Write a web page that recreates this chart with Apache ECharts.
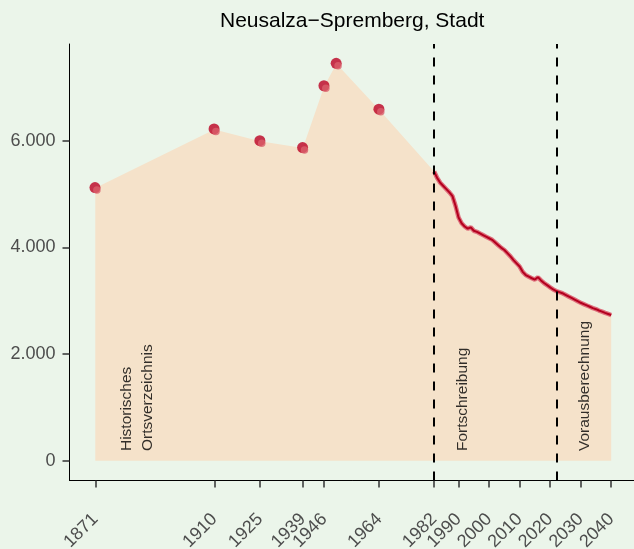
<!DOCTYPE html>
<html><head><meta charset="utf-8">
<script src="https://cdn.jsdelivr.net/npm/echarts@6/dist/echarts.min.js"></script>
<style>html,body{margin:0;padding:0;background:#EBF5EA;} #c{width:634px;height:549px;}</style>
</head><body><div id="c"></div>
<script>
const chartTitle = 'Neusalza\u2212Spremberg, Stadt';
const histYears = [1871, 1910, 1925, 1939, 1946, 1950, 1964];
const histValues = [5110, 6210, 5990, 5860, 7020, 7440, 6580];
const lineYears = [1982,1983,1984,1985,1986,1987,1988,1989,1990,1991,1992,1993,1994,1995,1996,1997,1998,1999,
  2000,2001,2002,2003,2004,2005,2006,2007,2008,2009,2010,2011,2012,2013,2014,2015,2016,2017,2018,2019,
  2020,2021,2022,2023,2024,2025,2026,2027,2028,2029,2030,2031,2032,2033,2034,2035,2036,2037,2038,2039,2040];
const lineValues = [5420,5300,5210,5150,5090,5030,4960,4780,4560,4450,4390,4350,4375,4310,4290,4260,4230,4200,
  4170,4140,4090,4040,3990,3950,3890,3830,3760,3700,3640,3540,3480,3450,3420,3395,3440,3380,3330,3290,
  3250,3210,3180,3160,3140,3110,3080,3050,3020,2990,2960,2935,2910,2885,2860,2840,2815,2795,2770,2750,2730];
const xTickValues = [1871, 1910, 1925, 1939, 1946, 1964, 1982, 1990, 2000, 2010, 2020, 2030, 2040];
const yTickValues = [0, 2000, 4000, 6000];
const phaseBreaks = [1982, 2022];
const phaseLabelYears = [1884.7, 1991.4, 2031.4];
const phaseLabelTexts = ['Historisches\nOrtsverzeichnis', 'Fortschreibung', 'Vorausberechnung'];
const phaseLabelBase = 180;

const FONT = 'Liberation Sans, Arial, sans-serif';
const fmt = v => String(v).replace(/\B(?=(\d{3})+(?!\d))/g, '.');

const histData = histYears.map((y, i) => [y, histValues[i]]);
const lineData = lineYears.map((y, i) => [y, lineValues[i]]);
const areaData = histData.concat(lineData);
const labelData = phaseLabelYears.map((y, i) => ({value: [y, phaseLabelBase], name: phaseLabelTexts[i]}));

const chart = echarts.init(document.getElementById('c'), null, {renderer: 'canvas'});
chart.setOption({
  backgroundColor: '#EBF5EA',
  animation: false,
  title: {
    text: chartTitle, left: 220, top: 11, padding: 0,
    textStyle: {fontFamily: FONT, fontSize: 21, fontWeight: 'normal', color: '#000'}
  },
  grid: {left: 69.5, top: 44, width: 567.5, height: 436.5, outerBoundsMode: 'none', containLabel: false},
  xAxis: {
    type: 'value', min: 1862.55, max: 2048.45,
    splitLine: {show: false},
    axisLine: {show: true, onZero: false, lineStyle: {color: '#000', width: 1}},
    axisTick: {show: true, customValues: xTickValues, length: 7, lineStyle: {color: '#333', width: 1.5}},
    axisLabel: {customValues: xTickValues, rotate: 45, margin: 36, color: '#4D4D4D', fontSize: 18, fontFamily: FONT,
      formatter: v => String(v)}
  },
  yAxis: {
    type: 'value', min: -372, max: 7812,
    splitLine: {show: false},
    axisLine: {show: true, onZero: false, lineStyle: {color: '#000', width: 1}},
    axisTick: {show: true, customValues: yTickValues, length: 7, lineStyle: {color: '#333', width: 1.5}},
    axisLabel: {customValues: yTickValues, margin: 14, color: '#4D4D4D', fontSize: 18, fontFamily: FONT, formatter: fmt}
  },
  series: [
    {
      type: 'line', data: areaData, symbol: 'none', silent: true,
      lineStyle: {width: 0, opacity: 0},
      areaStyle: {color: '#F5E2CA', opacity: 1, origin: 0},
      markLine: {
        silent: true, symbol: 'none', label: {show: false},
        lineStyle: {color: '#000', type: [9, 9], width: 2},
        data: phaseBreaks.map(x => ({xAxis: x}))
      },
      z: 1
    },
    {
      type: 'line', data: lineData, symbol: 'none', silent: true,
      lineStyle: {color: '#DE6F7C', width: 4.5}, z: 3
    },
    {
      type: 'line', data: lineData, symbol: 'none', silent: true,
      lineStyle: {color: '#B3001E', width: 2}, z: 4
    },
    {
      type: 'scatter', data: histData, symbolSize: 11, symbolOffset: [-0.3, -0.5],
      itemStyle: {color: '#BC0022'}, z: 5, silent: true
    },
    {
      type: 'scatter', data: histData, symbolSize: 7.5, symbolOffset: [1.6, 2],
      itemStyle: {color: '#DA5F6B'}, z: 6, silent: true
    },
    {
      type: 'scatter', data: labelData, symbolSize: 0, silent: true, z: 7,
      label: {show: true, position: 'inside', formatter: p => p.name, rotate: 90, align: 'left', verticalAlign: 'middle',
        fontFamily: FONT, fontSize: 15.5, lineHeight: 21, color: '#000'}
    }
  ]
});
</script></body></html>
